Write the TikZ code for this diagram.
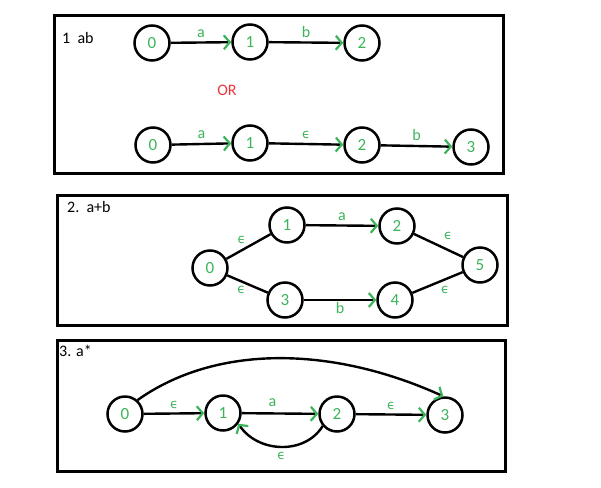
\documentclass[tikz,border=0pt]{standalone}
\usepackage{fontspec}
\setmainfont{Carlito}
\newfontfamily\epsfont{DejaVu Sans}
\newcommand{\eps}{{\epsfont\fontsize{13}{16}\selectfont ϵ}}
\usepackage{tikz}
\usetikzlibrary{arrows.meta,positioning}
\definecolor{nfagreen}{RGB}{60,180,90}
\definecolor{orred}{RGB}{235,55,60}

\begin{document}
\begin{tikzpicture}[x=1pt, y=-1pt,
    state/.style={circle, draw, line width=2.5pt, minimum size=35pt, inner sep=0pt, text=nfagreen, font=\fontsize{17}{20}\selectfont},
    frame/.style={draw, line width=3pt},
    title/.style={anchor=west, inner sep=0pt, font=\fontsize{16}{19}\selectfont},
    line/.style={draw, line width=2.4pt},
    move/.style={line, -{Straight Barb[color=nfagreen, length=6pt, width=14pt, line width=2.2pt]}},
    lbl/.style={text=nfagreen, inner sep=1pt, font=\fontsize{16}{19}\selectfont}]

    \useasboundingbox (0,0) rectangle (601,487);

    % 1  ab
    \draw [frame] (54,16) rectangle (503,173);
    \node [title] (t1) at (62,38) {1\ \ ab};
    \node [state] (a0) at (152,43) {0};
    \node [state] (a1) at (250,42) {1};
    \node [state] (a2) at (362,43) {2};
    \node [text=orred, font=\fontsize{16}{19}\selectfont] (or) at (227,90) {OR};
    \node [state] (b0) at (153,145) {0};
    \node [state] (b1) at (250,143) {1};
    \node [state] (b2) at (362,145) {2};
    \node [state] (b3) at (471,147) {3};

    \path [move] (a0) -- node [lbl, above=3pt] {a} (a1);
    \path [move] (a1) -- node [lbl, above=3pt] {b} (a2);
    \path [move] (b0) -- node [lbl, above=3pt] {a} (b1);
    \path [move] (b1) -- node [lbl, above=3pt] {\eps} (b2);
    \path [move] (b2) -- node [lbl, above=3pt] {b} (b3);

    % 2.  a+b
    \draw [frame] (57,195) rectangle (507,325);
    \node [title] (t2) at (67,207) {2.\ \ a+b};
    \node [state] (c0) at (210,268) {0};
    \node [state] (c1) at (287,225) {1};
    \node [state] (c2) at (397,226) {2};
    \node [state] (c3) at (285,300) {3};
    \node [state] (c4) at (395,300) {4};
    \node [state] (c5) at (480,265) {5};

    \path [line] (c0) -- node [lbl, above left=1pt] {\eps} (c1);
    \path [move] (c1) -- node [lbl, above=3pt] {a} (c2);
    \path [line] (c2) -- node [lbl, above right=5pt] {\eps} (c5);
    \path [line] (c0) -- node [lbl, below left=0pt] {\eps} (c3);
    \path [move] (c3) -- node [lbl, below=0pt] {b} (c4);
    \path [line] (c4) -- node [lbl, below right=2pt] {\eps} (c5);

    % 3. a*
    \draw [frame] (57,340) rectangle (505,471);
    \node [title] (t3) at (59,351) {3. a*};
    \node [state] (d0) at (125,414) {0};
    \node [state] (d1) at (223,413) {1};
    \node [state] (d2) at (337,414) {2};
    \node [state] (d3) at (445,415) {3};

    \path [move] (d0) -- node [lbl, above=3pt] {\eps} (d1);
    \path [move] (d1) -- node [lbl, above=5pt, pos=0.4] {a} (d2);
    \path [move] (d2) -- node [lbl, above=3pt] {\eps} (d3);
    \path [move] (d0.48) .. controls (215,345) and (330,345) .. (d3.95);
    \path [move] (d2.-140) .. controls (305,455) and (258,453) .. node [lbl, below=3pt] {\eps} (d1.-35);
\end{tikzpicture}
\end{document}
